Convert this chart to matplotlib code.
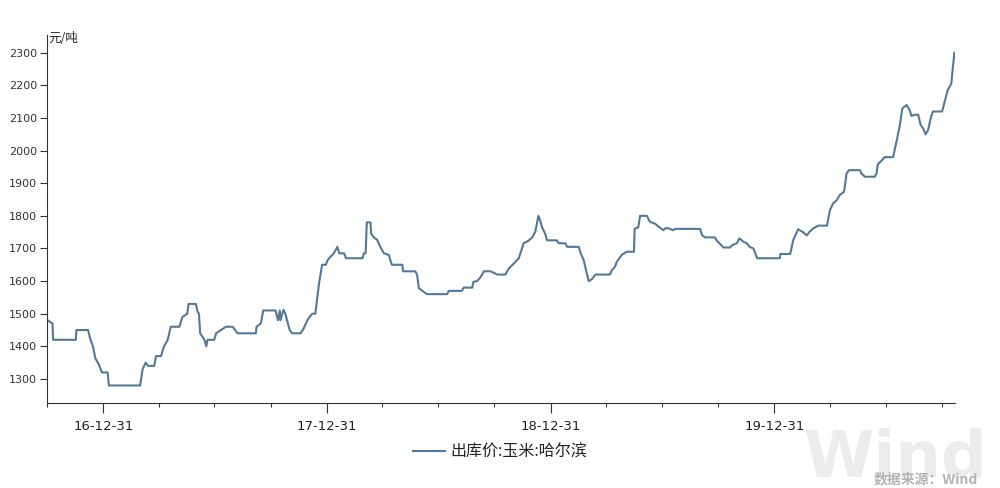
import matplotlib
matplotlib.use("Agg")
import matplotlib.pyplot as plt
import pandas as pd

plt.rcParams['font.family'] = ['Noto Sans CJK SC', 'DejaVu Sans']

dates = [
    "2016-10-01", "2016-10-09", "2016-10-10", "2016-11-16", "2016-11-17", "2016-12-06",
    "2016-12-10", "2016-12-14", "2016-12-18", "2016-12-24", "2016-12-27", "2016-12-29",
    "2017-01-07", "2017-01-09", "2017-03-01", "2017-03-05", "2017-03-10", "2017-03-14",
    "2017-03-24", "2017-03-27", "2017-04-04", "2017-04-09", "2017-04-15", "2017-04-20",
    "2017-05-04", "2017-05-09", "2017-05-17", "2017-05-19", "2017-05-31", "2017-06-03",
    "2017-06-05", "2017-06-07", "2017-06-14", "2017-06-17", "2017-06-19", "2017-06-30",
    "2017-07-03", "2017-07-11", "2017-07-19", "2017-07-30", "2017-08-07", "2017-09-06",
    "2017-09-07", "2017-09-14", "2017-09-18", "2017-10-08", "2017-10-12", "2017-10-15",
    "2017-10-16", "2017-10-21", "2017-10-24", "2017-10-31", "2017-11-04", "2017-11-18",
    "2017-11-23", "2017-11-29", "2017-12-01", "2017-12-07", "2017-12-12", "2017-12-15",
    "2017-12-18", "2017-12-23", "2017-12-29", "2018-01-01", "2018-01-06", "2018-01-11",
    "2018-01-17", "2018-01-20", "2018-01-28", "2018-01-31", "2018-02-27", "2018-03-01",
    "2018-03-04", "2018-03-06", "2018-03-12", "2018-03-13", "2018-03-17", "2018-03-23",
    "2018-03-28", "2018-04-03", "2018-04-11", "2018-04-14", "2018-04-16", "2018-05-03",
    "2018-05-04", "2018-05-24", "2018-05-27", "2018-05-30", "2018-06-07", "2018-06-12",
    "2018-07-15", "2018-07-18", "2018-08-08", "2018-08-11", "2018-08-25", "2018-08-27",
    "2018-09-02", "2018-09-08", "2018-09-13", "2018-09-24", "2018-10-05", "2018-10-18",
    "2018-10-24", "2018-11-01", "2018-11-09", "2018-11-17", "2018-11-25", "2018-12-01",
    "2018-12-06", "2018-12-11", "2018-12-14", "2018-12-17", "2018-12-22", "2018-12-25",
    "2019-01-10", "2019-01-13", "2019-01-24", "2019-01-27", "2019-02-15", "2019-02-17",
    "2019-02-23", "2019-02-28", "2019-03-03", "2019-03-08", "2019-03-14", "2019-04-07",
    "2019-04-10", "2019-04-15", "2019-04-18", "2019-04-26", "2019-05-04", "2019-05-16",
    "2019-05-17", "2019-05-23", "2019-05-26", "2019-06-06", "2019-06-11", "2019-06-20",
    "2019-06-25", "2019-07-03", "2019-07-06", "2019-07-11", "2019-07-19", "2019-07-22",
    "2019-09-01", "2019-09-04", "2019-09-09", "2019-09-25", "2019-09-28", "2019-10-03",
    "2019-10-09", "2019-10-20", "2019-10-23", "2019-10-31", "2019-11-04", "2019-11-11",
    "2019-11-16", "2019-11-21", "2019-11-27", "2019-12-03", "2020-01-09", "2020-01-10",
    "2020-01-26", "2020-01-31", "2020-02-08", "2020-02-16", "2020-02-22", "2020-02-27",
    "2020-03-04", "2020-03-12", "2020-03-26", "2020-03-31", "2020-04-05", "2020-04-11",
    "2020-04-16", "2020-04-23", "2020-04-27", "2020-05-01", "2020-05-19", "2020-05-21",
    "2020-05-27", "2020-06-12", "2020-06-15", "2020-06-17", "2020-06-23", "2020-06-28",
    "2020-07-12", "2020-07-18", "2020-07-23", "2020-07-27", "2020-08-03", "2020-08-08",
    "2020-08-11", "2020-08-16", "2020-08-22", "2020-08-26", "2020-08-30", "2020-09-03",
    "2020-09-07", "2020-09-12", "2020-09-15", "2020-09-30", "2020-10-04", "2020-10-09",
    "2020-10-15", "2020-10-17", "2020-10-20",
]

prices = [
    1480, 1470, 1420, 1420, 1450, 1450,
    1420, 1400, 1363, 1343, 1327, 1320,
    1320, 1280, 1280, 1330, 1350, 1340,
    1340, 1370, 1370, 1400, 1420, 1460,
    1460, 1490, 1500, 1530, 1530, 1505,
    1500, 1440, 1420, 1400, 1420, 1420,
    1440, 1450, 1460, 1460, 1440, 1440,
    1460, 1470, 1510, 1510, 1480, 1510,
    1480, 1512, 1500, 1450, 1440, 1440,
    1455, 1480, 1486, 1500, 1500, 1547,
    1593, 1650, 1650, 1664, 1675, 1685,
    1705, 1685, 1685, 1670, 1670, 1685,
    1685, 1780, 1780, 1746, 1735, 1726,
    1705, 1685, 1680, 1660, 1650, 1650,
    1630, 1630, 1620, 1578, 1567, 1560,
    1560, 1570, 1570, 1580, 1580, 1598,
    1600, 1613, 1630, 1630, 1620, 1620,
    1639, 1654, 1670, 1716, 1724, 1734,
    1751, 1800, 1785, 1765, 1746, 1725,
    1725, 1716, 1716, 1705, 1705, 1690,
    1664, 1624, 1600, 1605, 1620, 1620,
    1634, 1644, 1659, 1680, 1690, 1690,
    1760, 1765, 1800, 1800, 1782, 1775,
    1767, 1756, 1762, 1762, 1756, 1760,
    1760, 1741, 1734, 1734, 1725, 1715,
    1703, 1703, 1710, 1716, 1731, 1720,
    1716, 1705, 1700, 1670, 1670, 1683,
    1683, 1726, 1759, 1750, 1740, 1752,
    1762, 1770, 1770, 1818, 1838, 1848,
    1864, 1874, 1930, 1940, 1940, 1930,
    1920, 1920, 1930, 1958, 1969, 1980,
    1980, 2032, 2078, 2129, 2140, 2124,
    2106, 2110, 2110, 2078, 2068, 2050,
    2063, 2104, 2120, 2120, 2149, 2185,
    2206, 2246, 2300,
]

series_label = "出库价:玉米:哈尔滨"
unit_label = "元/吨"
source_label = "数据来源：Wind"
y_ticks = [1300, 1400, 1500, 1600, 1700, 1800, 1900, 2000, 2100, 2200, 2300]
x_major = ["2016-12-31", "2017-12-31", "2018-12-31", "2019-12-31"]
x_major_labels = ["16-12-31", "17-12-31", "18-12-31", "19-12-31"]
x_minor = ["2016-09-30", "2017-03-31", "2017-06-30", "2017-09-30",
           "2018-03-31", "2018-06-30", "2018-09-30",
           "2019-03-31", "2019-06-30", "2019-09-30",
           "2020-03-31", "2020-06-30", "2020-09-30"]

x = pd.to_datetime(dates)

fig = plt.figure(figsize=(10, 4.88), dpi=100)

# watermark (behind everything)
fig.text(0.987, 1 - 477 / 488, "Wind", fontsize=46, fontweight='bold',
         color="#ececec", ha='right', va='baseline', family=['DejaVu Sans'], zorder=0)

ax = fig.add_axes([0.047, 0.174, 0.908, 0.754])
ax.patch.set_alpha(0)

line_color = "#52799a"
ax.plot(x, prices, color=line_color, linewidth=1.5, label=series_label)

ax.set_xlim(pd.Timestamp("2016-09-30"), pd.Timestamp("2020-10-21"))
ax.set_ylim(1226, 2354)

ax.set_yticks(y_ticks)
ax.set_yticklabels([str(v) for v in y_ticks], fontsize=8, color="#333333",
                   family=['DejaVu Sans'])
ax.set_xticks(pd.to_datetime(x_major))
ax.set_xticklabels(x_major_labels, fontsize=9.5, color="#222222", family=['DejaVu Sans'])
ax.set_xticks(pd.to_datetime(x_minor), minor=True)

ax.tick_params(axis='y', direction='out', length=5, width=0.8, color="#333333", pad=2)
ax.tick_params(axis='x', which='major', direction='out', length=7, width=0.8,
               color="#333333", pad=5)
ax.tick_params(axis='x', which='minor', direction='out', length=3, width=0.8,
               color="#333333")

for s in ['top', 'right']:
    ax.spines[s].set_visible(False)
for s in ['left', 'bottom']:
    ax.spines[s].set_color("#333333")
    ax.spines[s].set_linewidth(0.8)

fig.text(0.048, 1 - 38 / 488, unit_label, fontsize=9, color="#222222",
         ha='left', va='center')

fig.text(0.978, 1 - 479 / 488, source_label, fontsize=10, color="#b3b3b3",
         ha='right', va='center', fontweight='bold', zorder=1)

leg = fig.legend(handles=ax.get_lines(), labels=[series_label],
                 loc='center', bbox_to_anchor=(0.50, 1 - 452 / 488),
                 frameon=False, fontsize=11.5, handlelength=2.0, handletextpad=0.3)
for t in leg.get_texts():
    t.set_color("#222222")

fig.savefig("out.png", dpi=100)
